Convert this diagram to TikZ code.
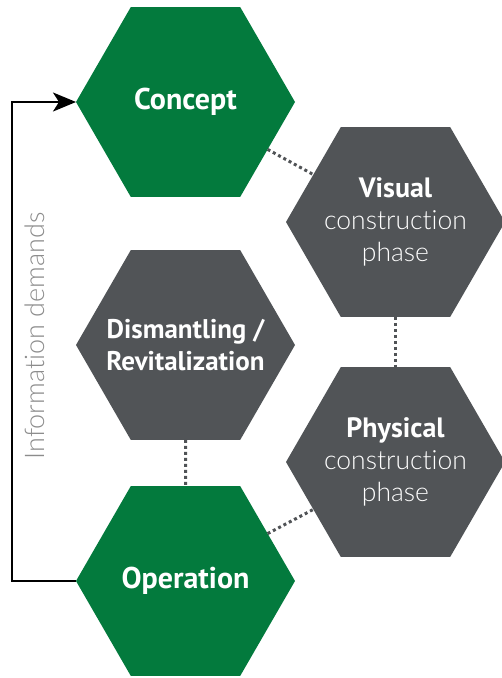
\documentclass[tikz,border=0pt]{standalone}
\usepackage{fontspec}
\setmainfont{PT Sans}
\newfontfamily\lightfont[Ligatures={NoCommon,NoRare}]{Lato Light}
\usetikzlibrary{shapes.geometric,arrows.meta}
\definecolor{hexgreen}{HTML}{037A3D}
\definecolor{hexgray}{HTML}{515457}
\definecolor{dotgray}{HTML}{505356}
\definecolor{labelgray}{HTML}{8C8C8C}
\tikzset{
  hex/.style={regular polygon, regular polygon sides=6, minimum size=219pt,
    inner sep=-40pt, outer sep=0pt, text=white, align=center},
  bigtitle/.style={font=\bfseries\fontsize{30}{32}\selectfont},
  twotitle/.style={font=\bfseries\fontsize{27}{32.5}\selectfont},
  phasetext/.style={font=\lightfont\fontsize{26.5}{32}\selectfont},
  link/.style={draw=dotgray, line width=3pt, dash pattern=on 3pt off 3pt},
  demand/.style={line width=2pt, -{Stealth[length=23pt,width=19pt,inset=6pt]}}
}

\begin{document}
\begin{tikzpicture}[x=1pt,y=-1pt]
	%%%%% START %%%%%
	\useasboundingbox (0,0) rectangle (502,678);
	\clip (0,0) rectangle (502,678);
	
	\node[hex, fill=hexgreen, bigtitle] (concept) at (185.5,102) {Concept};
	\node[hex, fill=hexgray, phasetext] (visual) at (395.5,222)
		{{\normalfont\bfseries\fontsize{28}{32}\selectfont Visual}\\construction\\phase};
	\node[hex, fill=hexgray, twotitle] (dismantle) at (185.5,345) {Dismantling /\\Revitalization};
	\node[hex, fill=hexgray, phasetext] (physical) at (395.5,462)
		{{\normalfont\bfseries\fontsize{28}{32}\selectfont Physical}\\construction\\phase};
	\node[hex, fill=hexgreen, bigtitle] (operation) at (185.5,581) {Operation};
	
	\draw[link] (concept.-30) -- (visual.150);
	\draw[link] (visual.south) -- (physical.north);
	\draw[link] (dismantle.south) -- (operation.north);
	\draw[link] (operation.30) -- (physical.210);
	
	\draw[demand] (operation.west) -- ++(-64,0) |- (concept.west);
	\node[rotate=90, text=labelgray, font=\lightfont\fontsize{27}{28}\selectfont] (demands) at (35,336) {Information demands};
	%%%%% END %%%%%
\end{tikzpicture}
\end{document}
